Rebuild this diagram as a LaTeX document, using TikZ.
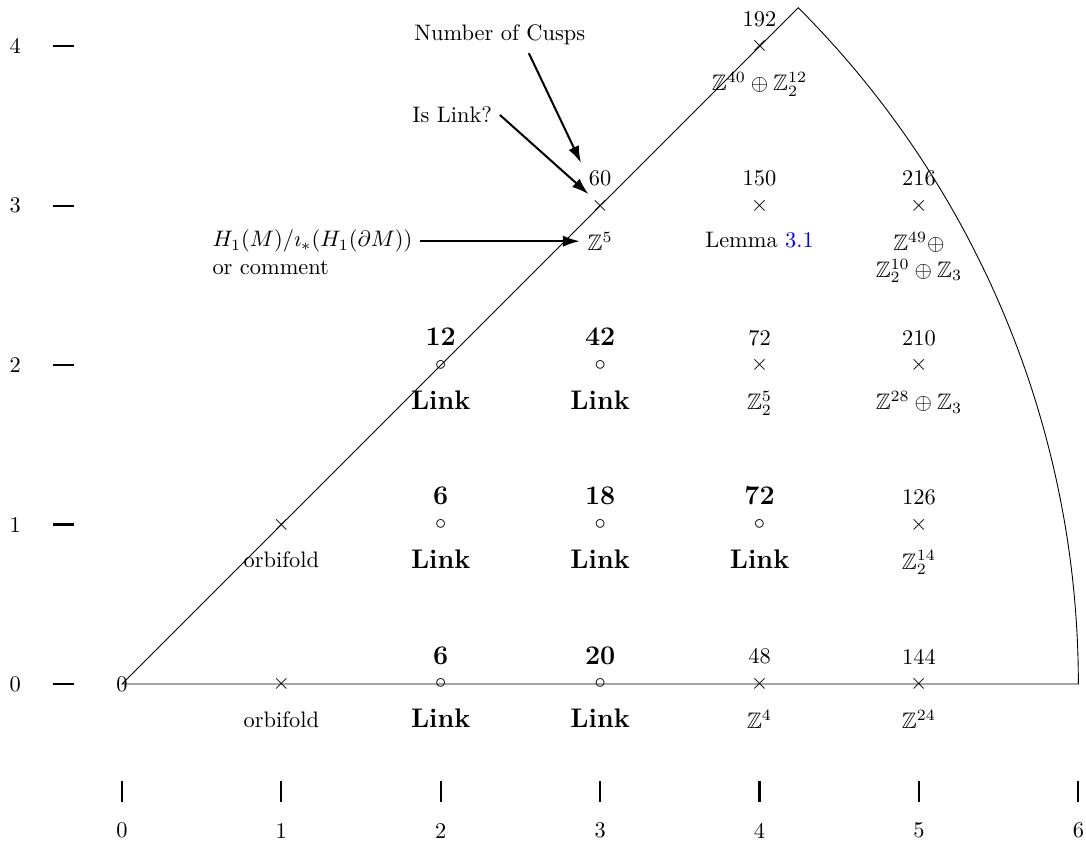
\documentclass[tikz,border=0pt]{standalone}
\usepackage{amsmath}
\usepackage{amssymb}
\usepackage{tikz}
\usetikzlibrary{positioning, arrows.meta}
\usepackage{xcolor}

\begin{document}
\begin{tikzpicture}[x=2.5cm,y=2.5cm,auto,
    mk/.style={inner sep=0pt,minimum size=10pt},
    big/.style={font=\large\bfseries},
    rem/.style={align=center},
    arr/.style={line width=0.9pt,-{Latex[length=7.5pt,width=5pt]}},
    tick/.style={line width=1pt}]
    \useasboundingbox (-0.765,-1.01) rectangle (6.048,4.291);

    \draw (0,0) -- (6,0) arc (0:45:6) -- cycle;
    \node (o) at (0,0) {0};

    \foreach \y in {0,...,4} {
        \node (ly\y) at (-0.67,\y) {\y};
        \draw[tick] (-0.433,\y) -- (-0.30,\y);
    }
    \foreach \x in {0,...,6} {
        \node (lx\x) at (\x,-0.92) {\x};
        \draw[tick] (\x,-0.61) -- (\x,-0.74);
    }

    \foreach \y in {0,1} {
        \node[mk] (p1\y) at (1,\y) {$\times$};
        \node[rem] (c1\y) [below=3.5pt of p1\y] {orbifold};
    }
    \foreach \x/\y/\n in {2/0/6, 3/0/20, 2/1/6, 3/1/18, 4/1/72, 2/2/12, 3/2/42} {
        \node[mk] (p\x\y) at (\x,\y) {$\circ$};
        \node[big] (n\x\y) [above=0pt of p\x\y] {\n};
        \node[big] (c\x\y) [below=2.5pt of p\x\y] {Link};
    }
    \foreach \x/\y/\n/\c in {4/0/48/{$\mathbb{Z}^4$},
                            5/0/144/{$\mathbb{Z}^{24}$},
                            5/1/126/{$\mathbb{Z}_2^{14}$},
                            4/2/72/{$\mathbb{Z}_2^5$},
                            5/2/210/{$\mathbb{Z}^{28}\oplus\mathbb{Z}_3$},
                            3/3/60/{$\mathbb{Z}^5$},
                            4/3/150/{Lemma \textcolor{blue}{3.1}},
                            5/3/216/{$\mathbb{Z}^{49}\oplus$\\$\mathbb{Z}_2^{10}\oplus\mathbb{Z}_3$},
                            4/4/192/{$\mathbb{Z}^{40}\oplus\mathbb{Z}_2^{12}$}} {
        \node[mk] (p\x\y) at (\x,\y) {$\times$};
        \node (n\x\y) [above=0pt of p\x\y] {\n};
        \node[rem] (c\x\y) [below=3pt of p\x\y] {\c};
    }

    \node (cusps) at (2.37,4.07) {Number of Cusps};
    \node[anchor=east] (islink) at (2.371,3.57) {Is Link?};
    \node (h1) [left=2.5cm of c33] {$H_1(M)/\imath_*(H_1(\partial M))$};
    \node[anchor=north west,inner sep=0pt] (cmt) at ([xshift=3.33pt]h1.south west) {or comment};

    \draw[arr] ([xshift=13pt]cusps.south) -- (n33.north west);
    \draw[arr] (islink.east) -- (p33.north west);
    \draw[arr] (h1.east) -- (c33.west);
\end{tikzpicture}
\end{document}
